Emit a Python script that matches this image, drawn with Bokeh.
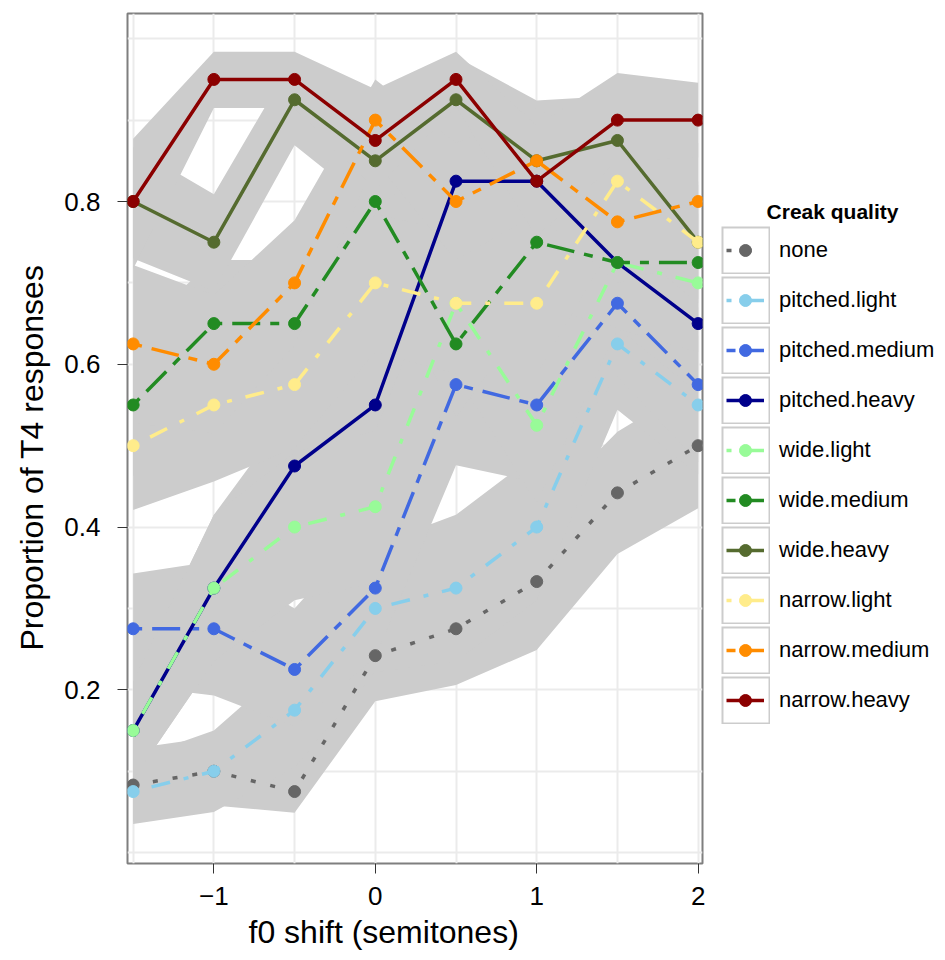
from bokeh.plotting import figure
from bokeh.layouts import row
from bokeh.models import FixedTicker, Legend, LegendItem, Label, Title
from bokeh.embed import file_html
from bokeh.resources import INLINE

# ---------------- data ----------------
f0_shift = [-1.5, -1.0, -0.5, 0.0, 0.5, 1.0, 1.5, 2.0]

series_names = ["none", "pitched.light", "pitched.medium", "pitched.heavy",
                "wide.light", "wide.medium", "wide.heavy",
                "narrow.light", "narrow.medium", "narrow.heavy"]

none_p = [0.083, 0.100, 0.075, 0.242, 0.275, 0.333, 0.442, 0.500]
none_lo = [0.038, 0.058, 0.049, 0.186, 0.206, 0.249, 0.367, 0.423]
none_hi = [0.128, 0.142, 0.110, 0.298, 0.344, 0.417, 0.517, 0.577]

pitched_light_p = [0.075, 0.100, 0.175, 0.300, 0.325, 0.400, 0.625, 0.550]
pitched_light_lo = [0.035, 0.050, 0.105, 0.222, 0.235, 0.310, 0.544, 0.465]
pitched_light_hi = [0.115, 0.150, 0.237, 0.378, 0.415, 0.490, 0.706, 0.635]

pitched_medium_p = [0.275, 0.275, 0.225, 0.325, 0.575, 0.550, 0.675, 0.575]
pitched_medium_lo = [0.205, 0.193, 0.155, 0.240, 0.476, 0.455, 0.585, 0.480]
pitched_medium_hi = [0.343, 0.358, 0.300, 0.410, 0.674, 0.645, 0.765, 0.670]

pitched_heavy_p = [0.150, 0.325, 0.475, 0.550, 0.825, 0.825, 0.725, 0.650]
pitched_heavy_lo = [0.090, 0.235, 0.400, 0.455, 0.757, 0.757, 0.645, 0.565]
pitched_heavy_hi = [0.210, 0.415, 0.550, 0.645, 0.893, 0.893, 0.805, 0.735]

wide_light_p = [0.150, 0.325, 0.400, 0.425, 0.675, 0.525, 0.725, 0.700]
wide_light_lo = [0.090, 0.235, 0.310, 0.332, 0.587, 0.430, 0.643, 0.615]
wide_light_hi = [0.210, 0.415, 0.492, 0.518, 0.763, 0.620, 0.807, 0.785]

wide_medium_p = [0.550, 0.650, 0.650, 0.800, 0.625, 0.750, 0.725, 0.725]
wide_medium_lo = [0.462, 0.572, 0.572, 0.728, 0.535, 0.672, 0.645, 0.645]
wide_medium_hi = [0.638, 0.728, 0.728, 0.872, 0.715, 0.828, 0.805, 0.805]

wide_heavy_p = [0.800, 0.750, 0.925, 0.850, 0.925, 0.850, 0.875, 0.750]
wide_heavy_lo = [0.730, 0.690, 0.869, 0.790, 0.869, 0.780, 0.820, 0.680]
wide_heavy_hi = [0.867, 0.809, 0.978, 0.910, 0.978, 0.924, 0.930, 0.820]

narrow_light_p = [0.500, 0.550, 0.575, 0.700, 0.675, 0.675, 0.825, 0.750]
narrow_light_lo = [0.421, 0.456, 0.497, 0.615, 0.588, 0.588, 0.757, 0.675]
narrow_light_hi = [0.579, 0.644, 0.653, 0.785, 0.762, 0.762, 0.893, 0.825]

narrow_medium_p = [0.625, 0.600, 0.700, 0.900, 0.800, 0.850, 0.775, 0.800]
narrow_medium_lo = [0.528, 0.515, 0.623, 0.850, 0.728, 0.785, 0.700, 0.728]
narrow_medium_hi = [0.722, 0.685, 0.777, 0.950, 0.872, 0.915, 0.850, 0.872]

narrow_heavy_p = [0.800, 0.950, 0.950, 0.875, 0.950, 0.825, 0.900, 0.900]
narrow_heavy_lo = [0.717, 0.915, 0.915, 0.815, 0.916, 0.757, 0.850, 0.854]
narrow_heavy_hi = [0.877, 0.984, 0.984, 0.938, 0.984, 0.893, 0.958, 0.946]

x_ticks = [-1, 0, 1, 2]
x_tick_labels = ["\u22121", "0", "1", "2"]
x_minor = [-1.5, -0.5, 0.5, 1.5]
y_ticks = [0.2, 0.4, 0.6, 0.8]
y_tick_labels = ["0.2", "0.4", "0.6", "0.8"]
y_minor = [0.0, 0.1, 0.3, 0.5, 0.7, 0.9, 1.0]

series = {
    "none": (none_p, none_lo, none_hi),
    "pitched.light": (pitched_light_p, pitched_light_lo, pitched_light_hi),
    "pitched.medium": (pitched_medium_p, pitched_medium_lo, pitched_medium_hi),
    "pitched.heavy": (pitched_heavy_p, pitched_heavy_lo, pitched_heavy_hi),
    "wide.light": (wide_light_p, wide_light_lo, wide_light_hi),
    "wide.medium": (wide_medium_p, wide_medium_lo, wide_medium_hi),
    "wide.heavy": (wide_heavy_p, wide_heavy_lo, wide_heavy_hi),
    "narrow.light": (narrow_light_p, narrow_light_lo, narrow_light_hi),
    "narrow.medium": (narrow_medium_p, narrow_medium_lo, narrow_medium_hi),
    "narrow.heavy": (narrow_heavy_p, narrow_heavy_lo, narrow_heavy_hi),
}

# ---------------- styles ----------------
FONT = "Liberation Sans"
LW = 3.5
DOTTED = "5 15"
DOTDASH = "5 14 19 14"
TWODASH = "9 10 28 10"
styles = {
    "none": ("#666666", DOTTED),
    "pitched.light": ("#87CEEB", DOTDASH),
    "pitched.medium": ("#4169E1", TWODASH),
    "pitched.heavy": ("#00008B", "solid"),
    "wide.light": ("#98FB98", DOTDASH),
    "wide.medium": ("#228B22", TWODASH),
    "wide.heavy": ("#556B2F", "solid"),
    "narrow.light": ("#FFEC8B", DOTDASH),
    "narrow.medium": ("#FF8C00", TWODASH),
    "narrow.heavy": ("#8B0000", "solid"),
}

# ---------------- main panel ----------------
p = figure(frame_width=575, frame_height=850,
           x_range=(-1.535, 2.027), y_range=(-0.0134, 1.031),
           output_backend="svg", toolbar_location=None,
           min_border_left=127, min_border_right=5,
           min_border_top=13, min_border_bottom=97,
           background_fill_color="white", border_fill_color="white")
p.outline_line_color = "#7F7F7F"
p.outline_line_width = 2

p.xaxis.ticker = FixedTicker(ticks=x_ticks, minor_ticks=x_minor)
p.yaxis.ticker = FixedTicker(ticks=y_ticks, minor_ticks=y_minor)
p.xaxis.major_label_overrides = dict(zip(x_ticks, x_tick_labels))
p.yaxis.major_label_overrides = dict(zip(y_ticks, y_tick_labels))

for ax in (p.xaxis, p.yaxis):
    ax.axis_line_color = None
    ax.major_tick_in = 0
    ax.major_tick_out = 10
    ax.major_tick_line_color = "#333333"
    ax.major_tick_line_width = 1
    ax.minor_tick_line_color = None
    ax.major_label_text_font = FONT
    ax.major_label_text_font_size = "26px"
    ax.major_label_text_color = "black"

p.xaxis.major_label_standoff = 13
p.yaxis.major_label_standoff = 17

xlab = Title(text="f0 shift (semitones)", align="left", offset=121,
             text_font=FONT, text_font_size="32px", text_font_style="normal",
             text_color="black", standoff=8)
p.add_layout(xlab, "below")
ylab = Title(text="Proportion of T4 responses", align="left", offset=213,
             text_font=FONT, text_font_size="32px", text_font_style="normal",
             text_color="black", standoff=23)
p.add_layout(ylab, "left")

for g in (p.xgrid, p.ygrid):
    g.grid_line_color = "#EBEBEB"
    g.grid_line_width = 2
    g.minor_grid_line_color = "#EBEBEB"
    g.minor_grid_line_width = 2

# ribbons
for name in series_names:
    vals, lo, hi = series[name]
    p.varea(x=f0_shift, y1=lo, y2=hi, fill_color="#CCCCCC", fill_alpha=1.0)

# lines + points
for name in series_names:
    vals, lo, hi = series[name]
    col, dash = styles[name]
    p.line(f0_shift, vals, line_color=col, line_width=LW, line_dash=dash)
    p.scatter(f0_shift, vals, size=12, marker="circle",
              fill_color=col, line_color=col)

# ---------------- legend panel ----------------
lg = figure(width=238, height=960, x_axis_type=None, y_axis_type=None,
            x_range=(0, 1), y_range=(0, 1),
            output_backend="svg", toolbar_location=None, min_border=0,
            background_fill_color="white", border_fill_color="white")
lg.outline_line_color = None

NA = [float("nan")]  # placeholder renderers: only their legend keys are drawn
box_outer = lg.line(x=NA, y=NA, line_color="#CCCCCC", line_width=48)
box_inner = lg.line(x=NA, y=NA, line_color="white", line_width=44,
                    line_dash="45 4", line_dash_offset=47)

key_items = []
for name in series_names:
    col, dash = styles[name]
    lr = lg.line(x=NA, y=NA, line_color=col, line_width=LW, line_dash=dash)
    sr = lg.scatter(x=NA, y=NA, size=12, marker="circle",
                    fill_color=col, line_color=col)
    key_items.append(LegendItem(label=" ", renderers=[lr, sr]))

legA = Legend(items=[LegendItem(label=n, renderers=[box_outer, box_inner])
                     for n in series_names],
              location=(14, 139), orientation="vertical",
              glyph_width=49, glyph_height=48, spacing=2,
              padding=0, margin=0, label_standoff=9,
              label_text_font=FONT, label_text_font_size="22px",
              label_text_color="black",
              border_line_color=None, background_fill_alpha=0)
lg.add_layout(legA)

legB = Legend(items=key_items, location=(19, 148), orientation="vertical",
              glyph_width=38, glyph_height=30, spacing=20,
              padding=0, margin=0, label_standoff=0,
              label_text_font_size="1px", label_text_alpha=0,
              label_height=1, label_width=1,
              border_line_color=None, background_fill_alpha=0)
lg.add_layout(legB)

title = Label(x=125, y=652, x_units="screen", y_units="screen",
              text="Creak quality", text_align="center", text_baseline="middle",
              text_font=FONT, text_font_size="21px", text_font_style="bold",
              text_color="black")
lg.add_layout(title)

layout = row(p, lg, spacing=0)
open("out.html", "w").write(file_html(layout, INLINE))
